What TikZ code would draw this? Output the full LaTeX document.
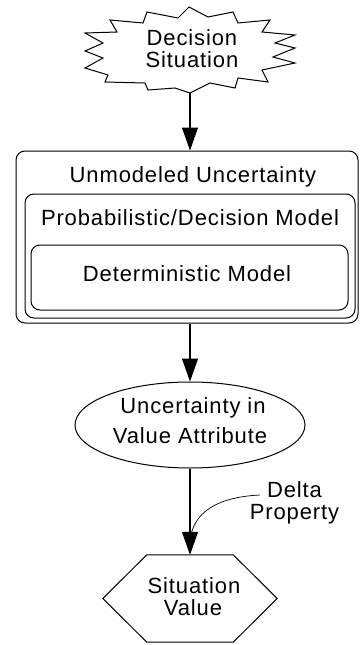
\documentclass[tikz,border=0pt]{standalone}
\usepackage{fontspec}
\setmainfont{Liberation Sans}[LetterSpace=4]
\usetikzlibrary{arrows.meta,shapes.geometric,calc}
\begin{document}
\begin{tikzpicture}[x=1pt,y=-1pt,
  txt/.style={font=\fontsize{22}{26}\selectfont, inner sep=0pt, anchor=base},
  rbox/.style={draw, line width=1pt, rounded corners=9pt, inner sep=0pt},
  arr/.style={line width=1.1pt, -{Triangle[length=23pt,width=16pt]}},
  shp/.style={draw, line width=1pt, line join=miter}]
\useasboundingbox (0,0) rectangle (360,645);

% starburst
\node[minimum width=210pt, minimum height=86pt, inner sep=0pt] (star) at (190,50) {};
\draw[shp] (189,7) -- (208,17) -- (233,12) -- (238,23) -- (270,20) -- (262,32)
  -- (295,35) -- (275,43) -- (295,48) -- (273,57) -- (295,63) -- (262,70)
  -- (268,82) -- (238,78) -- (235,88) -- (210,83) -- (190,93)
  -- (175,88) -- (148,90) -- (145,83) -- (105,82) -- (108,75) -- (85,68)
  -- (103,58) -- (85,51) -- (103,43) -- (85,33) -- (117,32) -- (110,20)
  -- (143,23) -- (147,12) -- (178,18) -- cycle;
\coordinate (starbot) at (190,93);
\node[txt] (t1) at (192,45) {Decision};
\node[txt] (t2) at (192,67) {Situation};

% nested boxes
\node[rbox, minimum width=342pt, minimum height=172pt] (outer) at (187,237) {};
\node[rbox, minimum width=330pt, minimum height=124pt] (mid) at (190,256) {};
\node[rbox, minimum width=317pt, minimum height=65pt] (inner) at (189.5,277.5) {};
\node[txt] (t3) at (193,182) {Unmodeled Uncertainty};
\node[txt] (t4) at (190,225) {Probabilistic/Decision Model};
\node[txt] (t5) at (187,281) {Deterministic Model};

% ellipse
\node[draw, ellipse, line width=1pt, minimum width=230pt, minimum height=86pt, inner sep=0pt] (ell) at (190,425) {};
\node[txt] (t6) at (193,413) {Uncertainty in};
\node[txt] (t7) at (190,443) {Value Attribute};

% hexagon
\node[minimum width=174pt, minimum height=87pt, inner sep=0pt] (hex) at (190,598.5) {};
\draw[shp] (hex.west) -- ($(hex.north west)+(44,0)$) -- ($(hex.north east)+(-44,0)$)
  -- (hex.east) -- ($(hex.south east)+(-44,0)$) -- ($(hex.south west)+(44,0)$) -- cycle;
\node[txt] (t8) at (194,593) {Situation};
\node[txt] (t9) at (193,615) {Value};

% delta property
\node[font=\fontsize{22}{22}\selectfont, align=center, inner sep=0pt, anchor=north] (delta) at (294.5,481) {Delta\\Property};
\coordinate (dstart) at (260,495);
\coordinate (dend) at (190,542);
\draw[line width=0.7pt] (dstart) .. controls (218,497) and (192,512) .. (dend);

% arrows
\draw[arr] (starbot) -- (starbot |- outer.north);
\draw[arr] (ell.north |- outer.south) -- (ell.north);
\draw[arr] (ell.south) -- (hex.north);
\end{tikzpicture}
\end{document}
